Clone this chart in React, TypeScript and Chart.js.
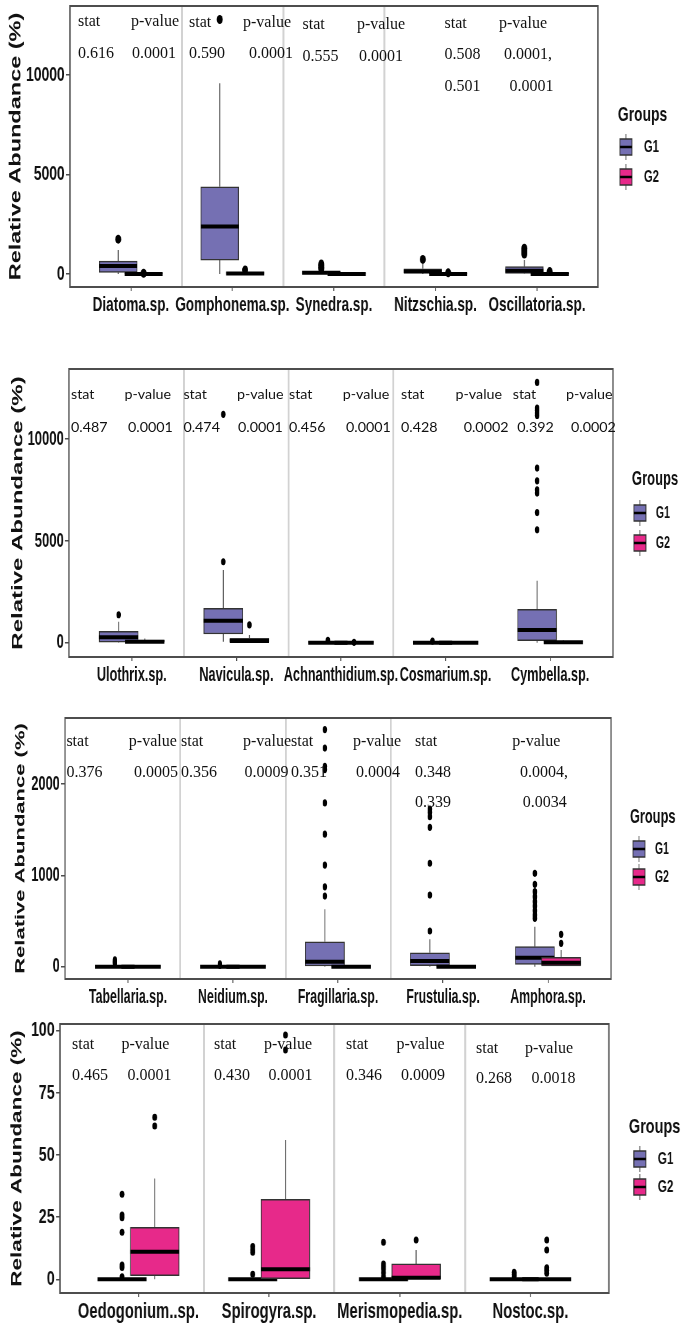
import React, { useEffect, useRef } from 'react';
import { Chart, registerables } from 'chart.js';

Chart.register(...registerables);

const SANS = "'Liberation Sans', Arial, Helvetica, sans-serif";
const SERIF = "'Liberation Serif', 'Times New Roman', serif";
const CALIBRI_LIKE = "Lato, 'Open Sans', sans-serif";

const G1_COLOR = '#7570B3';
const G2_COLOR = '#E7298A';
const groupLabels = ['G1', 'G2'];
const legendTitle = 'Groups';
const yAxisTitle = 'Relative Abundance (%)';
const statHeader = ['stat', 'p-value'];

// ---------------- Panel 1 ----------------
// stats per category: [lower whisker, Q1, median, Q3, upper whisker]
const p1Categories = ['Diatoma.sp.', 'Gomphonema.sp.', 'Synedra.sp.', 'Nitzschia.sp.', 'Oscillatoria.sp.'];
const p1G1Stats = [[0, 85, 400, 650, 1200], [0, 700, 2390, 4380, 9580], [0, 10, 60, 120, 200], [0, 50, 120, 265, 500], [0, 30, 166, 367, 700]];
const p1G1Outliers = [[1750], [12790], [250, 330, 420, 500], [735], [1000, 1100, 1200, 1300]];
const p1G2Stats = [[0, 0, 0, 30, 60], [0, 0, 20, 60, 120], [0, 0, 0, 20, 40], [0, 0, 0, 20, 40], [0, 0, 0, 20, 60]];
const p1G2Outliers = [[40], [200], [], [60], [120]];
const p1YTicks = [0, 5000, 10000];
const p1StatValues = ['0.616', '0.590', '0.555', '0.508', '0.501'];
const p1PValues = ['0.0001', '0.0001', '0.0001', '0.0001,', '0.0001'];

// ---------------- Panel 2 ----------------
const p2Categories = ['Ulothrix.sp.', 'Navicula.sp.', 'Achnanthidium.sp.', 'Cosmarium.sp.', 'Cymbella.sp.'];
const p2G1Stats = [[0, 20, 265, 560, 1030], [50, 425, 1080, 1685, 3560], [0, 0, 0, 20, 40], [0, 0, 0, 20, 40], [0, 98, 624, 1640, 3044]];
const p2G1Outliers = [[1370], [3970, 11200], [120], [80], [5534, 6383, 7336, 7498, 7940, 8563, 11146, 11264, 11391, 11509, 12766]];
const p2G2Stats = [[0, 0, 50, 130, 200], [0, 0, 80, 215, 380], [0, 0, 0, 20, 40], [0, 0, 0, 20, 40], [0, 0, 20, 60, 120]];
const p2G2Outliers = [[], [870], [20], [], []];
const p2YTicks = [0, 5000, 10000];
const p2StatValues = ['0.487', '0.474', '0.456', '0.428', '0.392'];
const p2PValues = ['0.0001', '0.0001', '0.0001', '0.0002', '0.0002'];

// ---------------- Panel 3 ----------------
const p3Categories = ['Tabellaria.sp.', 'Neidium.sp.', 'Fragillaria.sp.', 'Frustulia.sp.', 'Amphora.sp.'];
const p3G1Stats = [[0, 0, 0, 0, 5], [0, 0, 0, 0, 5], [0, 8, 55, 273, 630], [0, 11, 62, 153, 300], [0, 26, 99, 219, 438]];
const p3G1Outliers = [[30, 45, 60, 75], [15, 30], [773, 874, 1112, 1450, 1793, 2158, 2194, 2393, 2595], [391, 785, 1132, 1526, 1642, 1690, 1726], [530, 566, 613, 664, 712, 766, 821, 902, 1022]];
const p3G2Stats = [[0, 0, 0, 5, 10], [0, 0, 0, 5, 10], [0, 0, 0, 5, 10], [0, 0, 0, 5, 10], [0, 0, 44, 103, 183]];
const p3G2Outliers = [[], [], [], [], [256, 354]];
const p3YTicks = [0, 1000, 2000];
const p3StatValues = ['0.376', '0.356', '0.351', '0.348', '0.339'];
const p3PValues = ['0.0005', '0.0009', '0.0004', '0.0004,', '0.0034'];

// ---------------- Panel 4 ----------------
const p4Categories = ['Oedogonium..sp.', 'Spirogyra.sp.', 'Merismopedia.sp.', 'Nostoc.sp.'];
const p4G1Stats = [[0, 0, 0, 0, 0], [0, 0, 0, 0, 0], [0, 0, 0, 0, 0], [0, 0, 0, 0, 0]];
const p4G1Outliers = [[1.0, 4.8, 5.75, 18.9, 24.8, 25.9, 34.2], [2.0, 10.9, 11.8, 13.2], [1.0, 2.6, 4.2, 5.2, 6.2, 14.9], [1.0, 1.9, 2.8]];
const p4G2Stats = [[0, 1.5, 11.1, 20.9, 40.6], [0, 0, 4.1, 32.2, 56.0], [0, 0, 0.65, 6.2, 11.8], [0, 0, 0, 0, 0]];
const p4G2Outliers = [[61.7, 65.2], [92.2, 98.3], [15.8], [2.4, 3.7, 4.7, 11.8, 15.8]];
const p4YTicks = [0, 25, 50, 75, 100];
const p4StatValues = ['0.465', '0.430', '0.346', '0.268'];
const p4PValues = ['0.0001', '0.0001', '0.0009', '0.0018'];

// ---------------- Layout (page px) ----------------
const PAGE_W = 685;
const PAGE_H = 1324;

const panels: any[] = [
  {
    top: 0, height: 335, c: 0.66, area: [70, 598, 6, 287], yMin: -653, yMax: 13467,
    categories: p1Categories, g1: p1G1Stats, g1Out: p1G1Outliers, g2: p1G2Stats, g2Out: p1G2Outliers,
    yTicks: p1YTicks, separators: [1.5, 2.5, 3.5],
    tickFont: 21, labelFont: 20.5, titleFont: 23.5, titlePad: 10.7, pointR: 4.5,
    legend: { gx: 618, gy: 115, kx: 626, ky: [147, 177], lx: 644 },
  },
  {
    top: 335, height: 350, c: 0.62, area: [69, 613, 369, 657], yMin: -702, yMax: 13424,
    categories: p2Categories, g1: p2G1Stats, g1Out: p2G1Outliers, g2: p2G2Stats, g2Out: p2G2Outliers,
    yTicks: p2YTicks, separators: [1.5, 2.5, 3.5],
    tickFont: 21, labelFont: 20.5, titleFont: 24, titlePad: 15.4, pointR: 3.6,
    legend: { gx: 632, gy: 479, kx: 640, ky: [513, 543], lx: 656 },
  },
  {
    top: 685, height: 325, c: 0.61, area: [65, 611, 718, 979], yMin: -134.6, yMax: 2722,
    categories: p3Categories, g1: p3G1Stats, g1Out: p3G1Outliers, g2: p3G2Stats, g2Out: p3G2Outliers,
    yTicks: p3YTicks, separators: [1.5, 2.5, 3.5],
    tickFont: 21, labelFont: 20.3, titleFont: 22, titlePad: 21.2, pointR: 3.6,
    legend: { gx: 630, gy: 817, kx: 639, ky: [849, 877], lx: 655 },
  },
  {
    top: 1010, height: 314, c: 0.69, area: [60, 609, 1024, 1293], yMin: -5.5, yMax: 102.7,
    categories: p4Categories, g1: p4G1Stats, g1Out: p4G1Outliers, g2: p4G2Stats, g2Out: p4G2Outliers,
    yTicks: p4YTicks, separators: [1.5, 2.5, 3.5],
    tickFont: 20.5, labelFont: 21.5, titleFont: 22.5, titlePad: 11.1, pointR: 3.5,
    legend: { gx: 629, gy: 1127, kx: 640, ky: [1159, 1187], lx: 658 },
  },
];

// annotation layouts: header [statX, pX, baselineY]; values [statX, pX, baselineY]
const annotations: any[] = [
  {
    font: SERIF, size: 16, statValues: p1StatValues, pValues: p1PValues,
    header: [[78, 131, 26], [189, 243, 27], [302.6, 357, 29], [444.5, 499, 28]],
    values: [[78, 132, 57.5], [189, 249, 58.3], [302.6, 359, 60.7], [444.5, 504, 59.3], [444.5, 509.6, 90.7]],
  },
  {
    font: CALIBRI_LIKE, size: 14.3, statValues: p2StatValues, pValues: p2PValues,
    header: [[71, 124.5, 399.3], [183.4, 237, 399.3], [289, 342.8, 399.3], [401, 455.5, 399.3], [512.7, 566, 399.3]],
    values: [[71, 128, 431.5], [183.4, 238, 431.5], [289, 346, 431.5], [401, 463.7, 431.5], [517.3, 571, 431.5]],
  },
  {
    font: SERIF, size: 16, statValues: p3StatValues, pValues: p3PValues,
    header: [[66.4, 128.8, 746], [181, 243, 746], [291, 353, 746], [415, 512.3, 745.7]],
    values: [[66.4, 134, 776.7], [181, 244.5, 776.7], [291, 356, 776.7], [415, 520, 776.7], [415, 522.7, 807.3]],
  },
  {
    font: SERIF, size: 16, statValues: p4StatValues, pValues: p4PValues,
    header: [[72, 121.4, 1049.3], [214, 264, 1049.3], [346, 396.5, 1049.3], [476, 525, 1052.7]],
    values: [[72, 127.5, 1080], [214, 268.6, 1080], [346, 401, 1080], [476, 531.4, 1083.3]],
  },
];

const boxPlotPlugin = {
  id: 'boxPlotParts',
  beforeDatasetDraw(chart: any, args: any) {
    const ds = chart.data.datasets[args.index];
    if (!ds.boxStats) return;
    const ctx = chart.ctx;
    const ys = chart.scales.y;
    const a = chart.chartArea;
    ctx.save();
    ctx.beginPath();
    ctx.rect(a.left, a.top, a.right - a.left, a.bottom - a.top);
    ctx.clip();
    ctx.strokeStyle = '#555555';
    ctx.lineWidth = 1.5;
    args.meta.data.forEach((el: any, i: number) => {
      const s = ds.boxStats[i];
      ctx.beginPath();
      ctx.moveTo(el.x, ys.getPixelForValue(s[0]));
      ctx.lineTo(el.x, ys.getPixelForValue(s[1]));
      ctx.moveTo(el.x, ys.getPixelForValue(s[3]));
      ctx.lineTo(el.x, ys.getPixelForValue(s[4]));
      ctx.stroke();
    });
    ctx.restore();
  },
  afterDatasetDraw(chart: any, args: any) {
    const ds = chart.data.datasets[args.index];
    if (!ds.boxStats) return;
    const ctx = chart.ctx;
    const ys = chart.scales.y;
    ctx.save();
    ctx.strokeStyle = '#000000';
    ctx.lineWidth = 4;
    args.meta.data.forEach((el: any, i: number) => {
      const s = ds.boxStats[i];
      const y = ys.getPixelForValue(s[2]);
      const half = el.width / 2;
      ctx.beginPath();
      ctx.moveTo(el.x - half, y);
      ctx.lineTo(el.x + half, y);
      ctx.stroke();
    });
    ctx.restore();
  },
};

function makeFramePlugin(cfg: any) {
  return {
    id: 'frameLegend',
    afterDraw(chart: any) {
      const ctx = chart.ctx;
      const { left, top, right, bottom } = chart.chartArea;
      const c = cfg.c;
      const oy = cfg.top;
      ctx.save();
      ctx.strokeStyle = '#4d4d4d';
      ctx.lineWidth = 2;
      ctx.strokeRect(left, top, right - left, bottom - top);

      const lg = cfg.legend;
      ctx.fillStyle = '#111111';
      ctx.textAlign = 'left';
      ctx.textBaseline = 'middle';
      ctx.font = `bold 21px ${SANS}`;
      ctx.fillText(legendTitle, lg.gx / c, lg.gy - oy);
      const colors = [G1_COLOR, G2_COLOR];
      const hw = 6 / c;
      groupLabels.forEach((lab, i) => {
        const cx = lg.kx / c;
        const cy = lg.ky[i] - oy;
        ctx.strokeStyle = '#555555';
        ctx.lineWidth = 1.5;
        ctx.beginPath();
        ctx.moveTo(cx, cy - 13);
        ctx.lineTo(cx, cy + 13);
        ctx.stroke();
        ctx.fillStyle = colors[i];
        ctx.fillRect(cx - hw, cy - 8, hw * 2, 16);
        ctx.strokeStyle = '#333333';
        ctx.strokeRect(cx - hw, cy - 8, hw * 2, 16);
        ctx.strokeStyle = '#000000';
        ctx.lineWidth = 2.5;
        ctx.beginPath();
        ctx.moveTo(cx - hw, cy);
        ctx.lineTo(cx + hw, cy);
        ctx.stroke();
        ctx.fillStyle = '#111111';
        ctx.font = `bold 17px ${SANS}`;
        ctx.fillText(lab, lg.lx / c, cy);
      });
      ctx.restore();
    },
  };
}

function Panel({ cfg }: { cfg: any }) {
  const ref = useRef<HTMLCanvasElement>(null);
  const W = Math.round(PAGE_W / cfg.c);
  useEffect(() => {
    const canvas = ref.current;
    if (!canvas) return;
    const c = cfg.c;
    const X = (px: number) => px / c;
    const [L, R, T, B] = cfg.area;
    const n = cfg.categories.length;
    const unitPx = (X(R) - X(L)) / (n + 0.2);
    const groups = [
      { label: groupLabels[0], stats: cfg.g1, out: cfg.g1Out, off: -0.125, color: G1_COLOR, order: [4, 3] },
      { label: groupLabels[1], stats: cfg.g2, out: cfg.g2Out, off: 0.125, color: G2_COLOR, order: [2, 1] },
    ];
    const datasets: any[] = [];
    groups.forEach((g) => {
      datasets.push({
        type: 'bar',
        label: g.label,
        data: g.stats.map((s: number[], i: number) => ({ x: i + 1 + g.off, y: [s[1], s[3]] })),
        boxStats: g.stats,
        backgroundColor: g.color,
        borderColor: '#333333',
        borderWidth: 1.5,
        borderSkipped: false,
        barThickness: unitPx * 0.375,
        grouped: false,
        order: g.order[0],
      });
      datasets.push({
        type: 'scatter',
        label: g.label + ' outliers',
        data: g.out.flatMap((arr: number[], i: number) => arr.map((v) => ({ x: i + 1 + g.off, y: v }))),
        pointRadius: cfg.pointR,
        pointBackgroundColor: '#000000',
        pointBorderWidth: 0,
        order: g.order[1],
      });
    });

    const tickColor = '#4d4d4d';
    const chart = new Chart(canvas, {
      type: 'bar',
      data: { datasets },
      plugins: [boxPlotPlugin, makeFramePlugin(cfg)],
      options: {
        responsive: false,
        animation: false,
        devicePixelRatio: 1,
        events: [],
        layout: { padding: { left: 0, top: T - cfg.top, right: W - X(R), bottom: 0 } },
        plugins: { legend: { display: false }, tooltip: { enabled: false } },
        scales: {
          x: {
            type: 'linear',
            position: 'bottom',
            min: 0.4,
            max: n + 0.6,
            offset: false,
            afterBuildTicks: (s: any) => {
              s.ticks = cfg.categories.map((_: string, i: number) => ({ value: i + 1 }));
            },
            afterFit: (s: any) => {
              s.height = cfg.height - (B - cfg.top);
              s.paddingLeft = 0;
              s.paddingRight = 0;
            },
            ticks: {
              autoSkip: false,
              maxRotation: 0,
              minRotation: 0,
              padding: 2,
              color: '#111111',
              font: { family: SANS, weight: 'bold', size: cfg.labelFont },
              callback: (v: any) => cfg.categories[Math.round(Number(v)) - 1] ?? '',
            },
            grid: { drawOnChartArea: false, drawTicks: true, tickLength: 4, color: tickColor, lineWidth: 1.5, offset: false },
            border: { display: false },
          },
          xs: {
            type: 'linear',
            position: 'top',
            min: 0.4,
            max: n + 0.6,
            offset: false,
            afterBuildTicks: (s: any) => {
              s.ticks = cfg.separators.map((v: number) => ({ value: v }));
            },
            afterFit: (s: any) => {
              s.height = 0;
              s.paddingLeft = 0;
              s.paddingRight = 0;
            },
            ticks: { display: false },
            grid: { drawTicks: false, color: '#d2d2d2', lineWidth: 3, offset: false },
            border: { display: false },
          },
          y: {
            type: 'linear',
            position: 'left',
            min: cfg.yMin,
            max: cfg.yMax,
            afterBuildTicks: (s: any) => {
              s.ticks = cfg.yTicks.map((v: number) => ({ value: v }));
            },
            afterFit: (s: any) => {
              s.width = X(L);
              s.paddingTop = 0;
              s.paddingBottom = 0;
            },
            ticks: {
              padding: 2,
              color: '#111111',
              font: { family: SANS, weight: 'bold', size: cfg.tickFont },
              callback: (v: any) => String(v),
            },
            grid: { drawOnChartArea: false, drawTicks: true, tickLength: 4 / c, color: tickColor, lineWidth: 1.5 },
            border: { display: false },
            title: {
              display: true,
              text: yAxisTitle,
              color: '#111111',
              font: { family: SANS, weight: 'bold', size: cfg.titleFont },
              padding: { top: cfg.titlePad, bottom: 0 },
            },
          },
        },
      } as any,
    } as any);
    return () => chart.destroy();
  }, []);
  return (
    <canvas
      ref={ref}
      width={W}
      height={cfg.height}
      style={{ position: 'absolute', left: 0, top: cfg.top, width: PAGE_W, height: cfg.height, display: 'block' }}
    />
  );
}

function Annotations() {
  const items: any[] = [];
  annotations.forEach((an, pi) => {
    an.header.forEach((h: number[], i: number) => {
      items.push(<text key={`h${pi}-${i}-s`} x={h[0]} y={h[2]} fontFamily={an.font} fontSize={an.size}>{statHeader[0]}</text>);
      items.push(<text key={`h${pi}-${i}-p`} x={h[1]} y={h[2]} fontFamily={an.font} fontSize={an.size}>{statHeader[1]}</text>);
    });
    an.values.forEach((v: number[], i: number) => {
      items.push(<text key={`v${pi}-${i}-s`} x={v[0]} y={v[2]} fontFamily={an.font} fontSize={an.size}>{an.statValues[i]}</text>);
      items.push(<text key={`v${pi}-${i}-p`} x={v[1]} y={v[2]} fontFamily={an.font} fontSize={an.size}>{an.pValues[i]}</text>);
    });
  });
  return (
    <svg
      width={PAGE_W}
      height={PAGE_H}
      style={{ position: 'absolute', left: 0, top: 0, pointerEvents: 'none' }}
    >
      <g fill="#111111">{items}</g>
    </svg>
  );
}

export default function App() {
  return (
    <div
      style={{
        position: 'absolute',
        left: 0,
        top: 0,
        width: PAGE_W,
        height: PAGE_H,
        overflow: 'hidden',
        background: '#ffffff',
      }}
    >
      {panels.map((p, i) => (
        <Panel key={i} cfg={p} />
      ))}
      <Annotations />
    </div>
  );
}
